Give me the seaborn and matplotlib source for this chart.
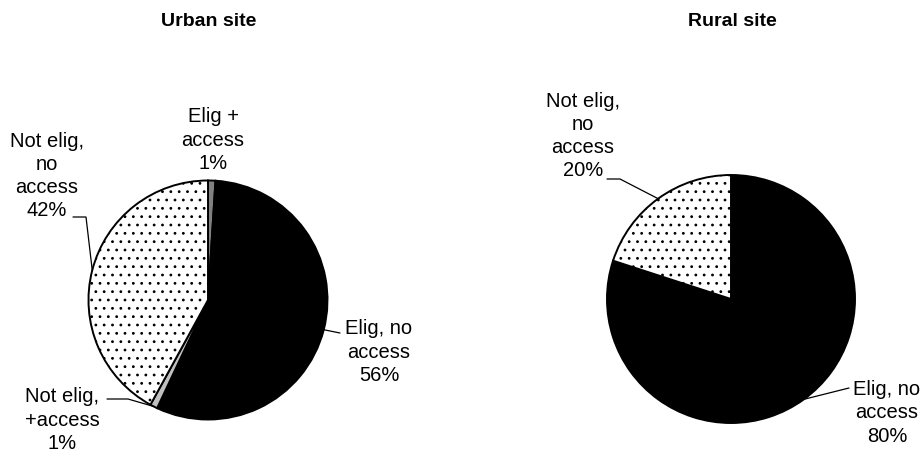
import matplotlib
matplotlib.use("Agg")
import matplotlib.pyplot as plt
import numpy as np
import seaborn as sns

# ---- data -------------------------------------------------------------
urban_categories = ["Elig + access", "Elig, no access", "Not elig, +access", "Not elig, no access"]
urban_values = [1, 56, 1, 42]

rural_categories = ["Elig, no access", "Not elig, no access"]
rural_values = [80, 20]

site_titles = ["Urban site", "Rural site"]

# wrapped label text for each category
wrapped = {
    "Elig + access": "Elig +\naccess",
    "Elig, no access": "Elig, no\naccess",
    "Not elig, +access": "Not elig,\n+access",
    "Not elig, no access": "Not elig,\nno\naccess",
}

# fill colour and hatch for each category
fills = {
    "Elig + access": ("#808080", None),
    "Elig, no access": ("#000000", None),
    "Not elig, +access": ("#c0c0c0", None),
    "Not elig, no access": ("#ffffff", ".."),
}

# ---- style ------------------------------------------------------------
sns.set_theme(style="white")
plt.rcParams["font.family"] = ["Liberation Sans", "DejaVu Sans"]
plt.rcParams["hatch.linewidth"] = 0.8

W, H = 923, 454
fig = plt.figure(figsize=(W / 100, H / 100), dpi=100)
ax = fig.add_axes([0, 0, 1, 1])


def px(x, y):
    """Pixel position (origin top-left) to data coordinates."""
    return x, H - y


# pie geometry and label layout (label centre, optional leader anchor/elbow)
sites = [
    dict(
        cats=urban_categories, vals=urban_values, center=px(208, 300), radius=119.5,
        title_xy=px(209, 21),
        labels=[
            ((213, 140), None),
            ((379, 352), [(340, 333)]),
            ((62, 420), [(107, 399), (128, 399)]),
            ((47, 176), [(73, 217), (86, 217)]),
        ],
    ),
    dict(
        cats=rural_categories, vals=rural_values, center=px(731, 299), radius=124,
        title_xy=px(732, 21),
        labels=[
            ((887, 413), [(849, 388)]),
            ((583, 136), [(607, 179), (620, 179)]),
        ],
    ),
]

for title, site in zip(site_titles, sites):
    colors = [fills[c][0] for c in site["cats"]]
    wedges, _ = ax.pie(
        site["vals"], colors=colors, startangle=90, counterclock=False,
        center=site["center"], radius=site["radius"],
        wedgeprops=dict(edgecolor="black", linewidth=1.4),
    )
    cx, cy = site["center"]
    r = site["radius"]
    for w, cat, val, (lab_xy, leader) in zip(wedges, site["cats"], site["vals"], site["labels"]):
        hatch = fills[cat][1]
        if hatch:
            w.set_hatch(hatch)
        ax.text(*px(*lab_xy), f"{wrapped[cat]}\n{val}%", ha="center", va="center",
                fontsize=14.5, color="black", linespacing=1.28, multialignment="center")
        if leader:
            mid = np.deg2rad((w.theta1 + w.theta2) / 2)
            edge = (cx + r * np.cos(mid), cy + r * np.sin(mid))
            pts = [px(*p) for p in leader] + [edge]
            ax.plot([p[0] for p in pts], [p[1] for p in pts], color="black", lw=0.9,
                    solid_joinstyle="miter")
    ax.text(*site["title_xy"], title, ha="center", va="center", fontsize=14,
            fontweight="bold", color="black")

ax.set_xlim(0, W)
ax.set_ylim(0, H)
ax.set_aspect("equal")
ax.axis("off")

fig.savefig("out.png", dpi=100, facecolor="white")
